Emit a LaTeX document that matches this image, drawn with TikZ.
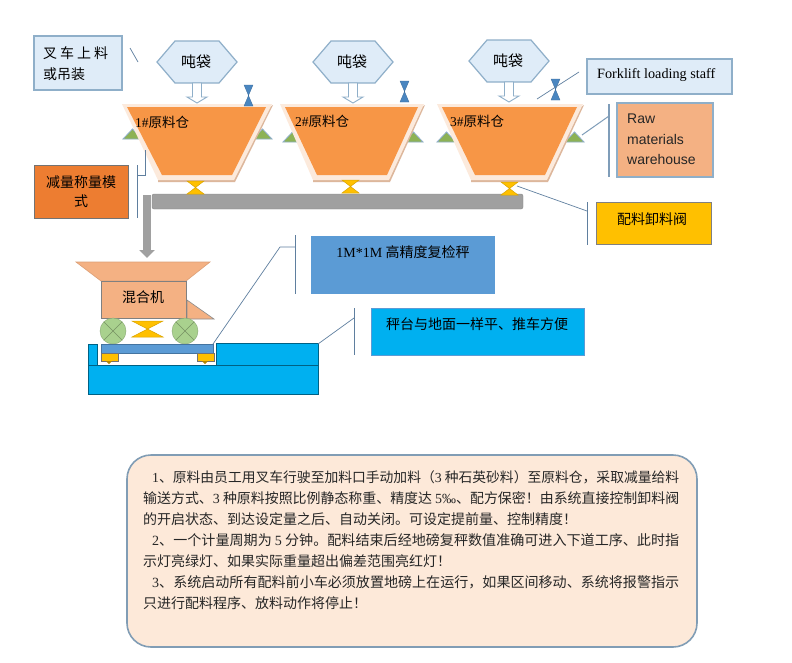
\documentclass[tikz,border=0pt]{standalone}
\usepackage{fontspec}
\usepackage{graphicx}
\setmainfont{Noto Sans CJK SC}
\newfontfamily\serifl{Liberation Serif}
\newfontfamily\sansl{Liberation Sans}
\usetikzlibrary{arrows.meta,calc}
\definecolor{paper}{HTML}{DFECF8}
\definecolor{paperedge}{HTML}{8FAFC9}
\definecolor{hoporange}{HTML}{F79646}
\definecolor{hopframe}{HTML}{FCEADC}
\definecolor{hopshadow}{HTML}{DDB79C}
\definecolor{peach}{HTML}{F4B183}
\definecolor{leader}{HTML}{5F7F9F}
\definecolor{barleader}{HTML}{7F9DB9}
\definecolor{valveblue}{HTML}{4A86C0}
\definecolor{gold}{HTML}{FFC000}
\definecolor{trigreen}{HTML}{8DB255}
\definecolor{wheel}{HTML}{A9D18E}
\definecolor{cyanb}{HTML}{00B0F0}
\definecolor{steel}{HTML}{5B9BD5}
\definecolor{panel}{HTML}{FDE9D9}
\definecolor{barGrey}{HTML}{A0A0A0}
\newcommand{\fs}[1]{\fontsize{#1}{#1}\selectfont}
\newcommand{\sr}[1]{{\serifl #1}}
\newcommand{\jl}[2]{\resizebox{#1pt}{!}{#2}}
\tikzset{
  tx/.style={font=\fs{14}, text=black, inner sep=0pt},
  leaderline/.style={draw=leader, line width=0.7pt},
  barline/.style={draw=barleader, line width=1pt},
  paperbox/.style={draw=paperedge, fill=paper, line width=1.4pt},
  hollowarrow/.style={draw=paperedge, fill=white, line width=0.9pt, line join=miter},
  plain/.style={inner sep=0pt, outer sep=0pt, minimum width=0pt},
  bodyline/.style={font=\fs{14}, inner sep=0pt, anchor=base west, text=black!85},
}
\newcommand{\hexa}[3]{% name cx cy
  \draw[paperbox, line width=1.2pt] (#2-40,#3) -- (#2-22,#3-21) -- (#2+22,#3-21) -- (#2+40,#3) -- (#2+22,#3+21) -- (#2-22,#3+21) -- cycle;
  \node[tx, font=\fs{15}] (#1) at (#2-1,#3) {吨袋};
}
\newcommand{\hollow}[2]{% cx ytop
  \draw[hollowarrow] (#1-4.5,#2) -- (#1+4.5,#2) -- (#1+4.5,#2+14) -- (#1+10,#2+14) -- (#1,#2+20) -- (#1-10,#2+14) -- (#1-4.5,#2+14) -- cycle;
}
\newcommand{\hopper}[3]{% name cx halfwidth
  \fill[hopshadow] (#2+#3+1,105) -- (#2+38,182) -- (#2-39,182) -- (#2-39,179) -- cycle;
  \fill[hopframe] (#2-#3,104) -- (#2+#3,104) -- (#2+37,180) -- (#2-39,180) -- cycle;
  \fill[hoporange] (#2-#3+5,107) -- (#2+#3-6,107) -- (#2+35,175) -- (#2-35,175) -- cycle;
  \coordinate (#1 south) at (#2,182);
  \coordinate (#1 north) at (#2,104);
}
\newcommand{\tri}[2]{% left x, y bottom
  \draw[fill=trigreen, draw=paperedge, line width=0.8pt] (#1,#2) -- (#1+9.5,#2-10) -- (#1+19,#2) -- cycle;
}
\newcommand{\bluevalve}[3]{%
  \draw[fill=valveblue, draw=valveblue!80!black, line width=0.3pt] (#1-4.5,#2) -- (#1+4.5,#2) -- (#1-4.5,#3) -- (#1+4.5,#3) -- cycle;
}
\newcommand{\yellowvalve}[4]{% cx halfw ytop ybottom
  \draw[fill=gold, draw=gold!85!black, line width=0.5pt] (#1-#2,#3) -- (#1+#2,#3) -- (#1-#2,#4) -- (#1+#2,#4) -- cycle;
}
\begin{document}
\begin{tikzpicture}[x=1pt,y=-1pt]
\useasboundingbox[fill=white] (0,0) rectangle (792,662);

% top-left label
\node[paperbox, plain, minimum width=88pt, minimum height=54pt, anchor=north west] (fork) at (34,36) {};
\node[tx, anchor=west] (forka) at (43,53) {叉\hspace{3pt}车\hspace{3pt}上\hspace{3pt}料};
\node[tx, anchor=west] (forkb) at (43,74) {或吊装};
\coordinate (fl1) at (130,48); \coordinate (fl2) at (138,62);
\draw[leaderline] (fl1) -- (fl2);

% bar
\draw[draw=barGrey!85!black, fill=barGrey, rounded corners=2pt, line width=0.4pt] (152,194) rectangle (523,209);
\coordinate (chuteTop) at (147,195);
\coordinate (chuteEnd) at (147,258);

% hoppers
\tri{123}{139}\tri{253}{139}
\tri{283}{142}\tri{404}{142}
\tri{437}{142}\tri{565}{142}
\hopper{h1}{197}{75}
\hopper{h2}{352}{72}
\hopper{h3}{510}{73}
\hexa{b1}{197}{62}
\hexa{b2}{353}{62}
\hexa{b3}{509}{61}
\hollow{197}{83}
\hollow{353}{83}
\hollow{509}{82}
\bluevalve{248.5}{85}{106}
\bluevalve{404.5}{81}{102}
\bluevalve{555.5}{79}{100}
\yellowvalve{195.5}{8.5}{181}{194}
\yellowvalve{350.5}{8.5}{180}{193}
\yellowvalve{509.5}{8.5}{182}{195}
\node[tx, font=\fs{13.5}, anchor=west] (l1) at (135,122) {\sr{1\#}原料仓};
\node[tx, font=\fs{13.5}, anchor=west] (l2) at (295,121) {\sr{2\#}原料仓};
\node[tx, font=\fs{13.5}, anchor=west] (l3) at (450,121) {\sr{3\#}原料仓};

% mode box
\node[draw=black!55, fill={rgb,255:red,237;green,125;blue,49}, line width=0.8pt, plain, minimum width=94pt, minimum height=53pt, anchor=north west, align=center, font=\fs{14}] (mode) at (34,165) {减量称量模\\[5pt]式};
\coordinate (m1) at (145,150); \coordinate (m2) at (145,175); \coordinate (m3) at (137,175);
\coordinate (m4) at (137,165); \coordinate (m5) at (137,218);
\draw[leaderline] (m1) -- (m2) -- (m3);
\draw[leaderline] (m4) -- (m5);

% right labels
\node[paperbox, plain, minimum width=145pt, minimum height=35pt, anchor=north west] (staff) at (587,59) {};
\node[inner sep=0pt, anchor=west, font=\fs{14.2}\serifl] (stafft) at (597,75) {Forklift loading staff};
\coordinate (s1) at (537,99); \coordinate (s2) at (579,72);
\draw[leaderline] (s1) -- (s2);

\node[draw=paperedge, fill=peach, line width=1.4pt, plain, minimum width=96pt, minimum height=74pt, anchor=north west] (raw) at (617,103) {};
\node[anchor=north west, inner sep=0pt, font=\fs{14}\sansl, align=left, text=black!85] (rawt) at (627,114) {Raw\\[6.5pt]materials\\[6.5pt]warehouse};
\coordinate (r1) at (582,135); \coordinate (r2) at (609,116); \coordinate (r3) at (609,104); \coordinate (r4) at (609,177);
\draw[barline] (r1) -- (r2);
\draw[barline, line width=1.3pt] (r3) -- (r4);

\node[draw=black!50, fill=gold, line width=0.8pt, plain, minimum width=115pt, minimum height=42pt, anchor=north west] (unload) at (596,202) {};
\node[tx, anchor=center] (unloadt) at (652,219) {配料卸料阀};
\coordinate (u1) at (517,186); \coordinate (u2) at (587,211); \coordinate (u3) at (587,202); \coordinate (u4) at (587,245);
\draw[leaderline] (u1) -- (u2);
\draw[leaderline] (u3) -- (u4);

% mixer
\draw[fill=peach, draw=peach!90!black, line width=0.6pt] (76,262) -- (210,262) -- (186,281) -- (101,281) -- cycle;
\node[fill=peach, draw=black!50, line width=0.7pt, plain, minimum width=85pt, minimum height=37pt, anchor=north west] (mixer) at (101,281) {};
\node[tx, anchor=center] (mixert) at (143,297) {混合机};
\draw[fill=peach, draw=black!45, line width=0.6pt] (187,300) -- (214,319) -- (187,319) -- cycle;
\draw[line width=8pt, barGrey, -{Triangle[length=8pt,width=15pt]}] (chuteTop) -- (chuteEnd);
\foreach \n/\x in {w1/113,w2/185}{
  \node[circle, fill=wheel, draw=wheel!80!black, line width=0.4pt, minimum size=26pt, inner sep=0pt] (\n) at (\x,331) {};
  \draw[wheel!70!black, line width=0.6pt] (\x-9,322) -- (\x+9,340) (\x-9,340) -- (\x+9,322);
}
\yellowvalve{147.5}{15.5}{321}{337}

% platform
\fill[cyanb] (88,365) rectangle (318,394);
\draw[black!45!cyanb, line width=0.5pt] (88,365) rectangle (318,394);
\draw[fill=cyanb, draw=black!45!cyanb, line width=0.5pt] (216,343) rectangle (318,365);
\draw[fill=cyanb, draw=black!45!cyanb, line width=0.5pt] (88,344) rectangle (97,365);
\node[fill=steel, draw=steel!75!black, line width=0.5pt, plain, minimum width=112pt, minimum height=9pt, anchor=north west] (plate) at (101,344) {};
\foreach \x in {101,197}{
  \draw[fill=gold, draw=black!55, line width=0.4pt] (\x,353) rectangle (\x+17,361);
  \fill[gold!70!black] (\x+5,361) -- (\x+11,361) -- (\x+8,364) -- cycle;
}

% middle labels
\node[fill=steel, plain, minimum width=184pt, minimum height=58pt, anchor=north west] (scale) at (311,236) {};
\node[tx, anchor=center] (scalet) at (403,252) {\sr{1M*1M} 高精度复检秤};
\coordinate (c1) at (213,344); \coordinate (c2) at (280,247); \coordinate (c3) at (295,247); \coordinate (c4) at (295,235); \coordinate (c5) at (295,294);
\draw[leaderline] (c1) -- (c2) -- (c3);
\draw[leaderline] (c4) -- (c5);

\node[fill=cyanb, draw=steel, line width=0.5pt, plain, minimum width=213pt, minimum height=47pt, anchor=north west] (flat) at (371,308) {};
\node[tx, anchor=center] (flatt) at (477,324) {秤台与地面一样平、推车方便};
\coordinate (d1) at (318,344); \coordinate (d2) at (354,318); \coordinate (d4) at (354,308); \coordinate (d5) at (354,355);
\draw[leaderline] (d1) -- (d2);
\draw[leaderline] (d4) -- (d5);

% text panel
\node[fill=panel, draw=paperedge!90!black, line width=1.6pt, rounded corners=24pt, plain, minimum width=570pt, minimum height=192pt, anchor=north west] (panelbox) at (127,455) {};
\node[bodyline] (t1) at (152,482) {\jl{527}{\sr{1}、原料由员工用叉车行驶至加料口手动加料（\sr{3} 种石英砂料）至原料仓，采取减量给料}};
\node[bodyline] (t2) at (143,503) {\jl{536}{输送方式、\sr{3} 种原料按照比例静态称重、精度达 \sr{5‰}、配方保密！由系统直接控制卸料阀}};
\node[bodyline] (t3) at (143,524) {的开启状态、到达设定量之后、自动关闭。可设定提前量、控制精度！};
\node[bodyline] (t4) at (152,545) {\jl{527}{\sr{2}、一个计量周期为 \sr{5} 分钟。配料结束后经地磅复秤数值准确可进入下道工序、此时指}};
\node[bodyline] (t5) at (143,566) {示灯亮绿灯、如果实际重量超出偏差范围亮红灯！};
\node[bodyline] (t6) at (152,587) {\jl{527}{\sr{3}、系统启动所有配料前小车必须放置地磅上在运行，如果区间移动、系统将报警指示}};
\node[bodyline] (t7) at (143,608) {只进行配料程序、放料动作将停止！};
\end{tikzpicture}
\end{document}
